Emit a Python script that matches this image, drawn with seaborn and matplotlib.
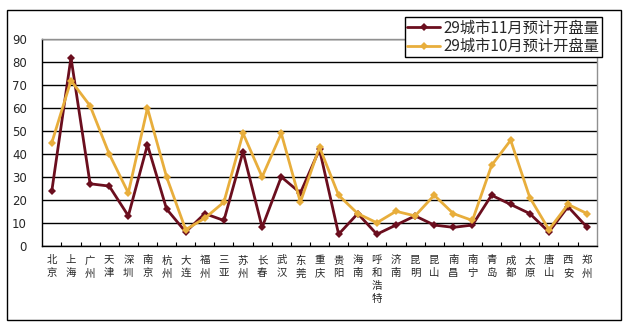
import numpy as np
import pandas as pd
import matplotlib
matplotlib.use("Agg")
import matplotlib.pyplot as plt
from matplotlib.patches import Rectangle
import seaborn as sns

cities = ["北京", "上海", "广州", "天津", "深圳", "南京", "杭州", "大连", "福州", "三亚",
          "苏州", "长春", "武汉", "东莞", "重庆", "贵阳", "海南", "呼和浩特", "济南", "昆明",
          "昆山", "南昌", "南宁", "青岛", "成都", "太原", "唐山", "西安", "郑州"]
nov_supply = [24, 82, 27, 26, 13, 44, 16, 6, 14, 11,
              41, 8, 30, 23, 42, 5, 14, 5, 9, 13,
              9, 8, 9, 22, 18, 14, 6, 17, 8]
oct_supply = [45, 72, 61, 40, 23, 60, 30, 7, 12, 19,
              49, 30, 49, 19, 43, 22, 14, 10, 15, 13,
              22, 14, 11, 35, 46, 21, 7, 18, 14]
series_names = ["29城市11月预计开盘量", "29城市10月预计开盘量"]
series_colors = ["#6B0E1E", "#E8AE3C"]
y_ticks = list(range(0, 100, 10))

sns.set_theme(style="white")
plt.rcParams["font.family"] = ["Noto Sans CJK SC", "DejaVu Sans"]

idx = np.arange(len(cities))
df = pd.DataFrame({
    "idx": np.concatenate([idx, idx]),
    "value": nov_supply + oct_supply,
    "series": [series_names[0]] * len(cities) + [series_names[1]] * len(cities),
})

W, H = 627, 325
fig = plt.figure(figsize=(W / 100, H / 100), dpi=100)
ax = fig.add_axes([42.3 / W, 1 - 245.7 / H, (596.7 - 42.3) / W, (245.7 - 39.3) / H])

sns.lineplot(data=df, x="idx", y="value", hue="series", style="series",
             hue_order=series_names, style_order=series_names,
             palette=series_colors, markers=["D", "D"], dashes=False,
             linewidth=2, markersize=4.5, markeredgewidth=0, ax=ax)

ax.set_xlim(-0.5, len(cities) - 0.5)
ax.set_ylim(0, 90)
ax.set_yticks(y_ticks)
ax.set_yticklabels([str(v) for v in y_ticks], fontsize=8.5, family="DejaVu Sans")
ax.tick_params(axis="y", length=0, pad=11)

ax.set_xticks(idx)
ax.set_xticklabels(["\n".join(c) for c in cities], fontsize=7.5, linespacing=1.35,
                   va="top")
ax.tick_params(axis="x", which="major", length=0, pad=7)
ax.set_xticks(np.arange(0.5, len(cities) - 0.5, 1), minor=True)
ax.tick_params(axis="x", which="minor", direction="in", length=3, width=0.8,
               color="black", bottom=True)

ax.set_xlabel("")
ax.set_ylabel("")
ax.set_axisbelow(True)
ax.yaxis.grid(True, color="black", linewidth=1)
ax.xaxis.grid(False)
for side in ["left", "bottom"]:
    ax.spines[side].set_color("black")
    ax.spines[side].set_linewidth(1)
for side in ["top", "right"]:
    ax.spines[side].set_color("#909090")
    ax.spines[side].set_linewidth(1)

handles, labels = ax.get_legend_handles_labels()
leg = ax.legend(handles, labels, loc="upper right",
                bbox_to_anchor=(601.7 / W, 1 - 17.3 / H), bbox_transform=fig.transFigure,
                borderaxespad=0, frameon=True, fancybox=False, framealpha=1,
                edgecolor="black", fontsize=11, handlelength=2.2, handletextpad=0.2,
                borderpad=0.15, labelspacing=0.1)
leg.get_frame().set_linewidth(1)
leg.set_zorder(5)

# outer chart border
fig.patches.append(Rectangle((7 / W, 1 - 320 / H), (621 - 7) / W, (320 - 10) / H,
                             transform=fig.transFigure, fill=False,
                             edgecolor="black", linewidth=1))

fig.savefig("out.png", dpi=100)
